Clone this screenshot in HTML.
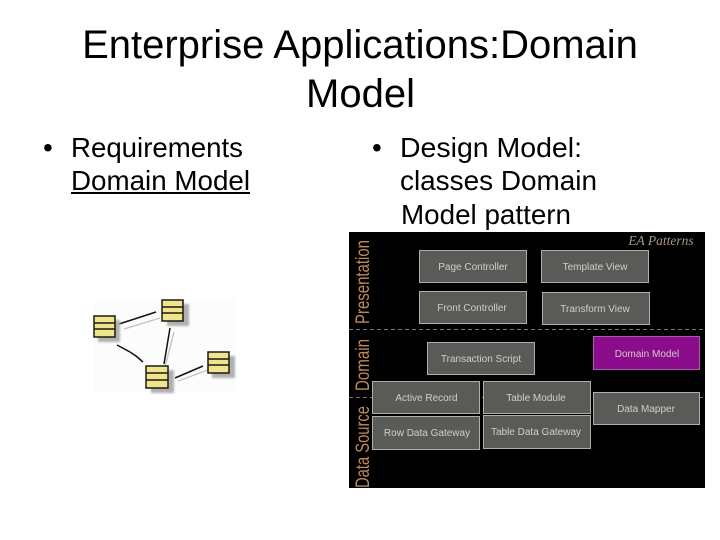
<!DOCTYPE html>
<html>
<head>
<meta charset="utf-8">
<style>
html,body{margin:0;padding:0;background:#fff}
body{width:720px;height:540px;position:relative;overflow:hidden}
svg{display:block}
</style>
</head>
<body>
<svg width="720" height="540" viewBox="0 0 720 540" xmlns="http://www.w3.org/2000/svg" font-family="'Liberation Sans',sans-serif">
<defs>
<filter id="b" x="-5%" y="-5%" width="110%" height="110%"><feGaussianBlur stdDeviation="0.3"/></filter>
<filter id="s" x="-20%" y="-20%" width="140%" height="140%"><feGaussianBlur stdDeviation="1"/></filter>
</defs>
<rect width="720" height="540" fill="#fff"/>
<g font-size="40" fill="#000" text-anchor="middle">
<text x="360" y="58">Enterprise Applications:Domain</text>
<text x="360.500" y="107">Model</text>
</g>
<g font-size="28" fill="#000">
<text x="43" y="157">•</text>
<text x="71" y="157" textLength="172" lengthAdjust="spacingAndGlyphs">Requirements</text>
<text x="71" y="190" textLength="179" lengthAdjust="spacingAndGlyphs">Domain Model</text>
<rect x="71" y="192" width="179" height="2"/>
<text x="372" y="157">•</text>
<text x="400" y="157" textLength="182" lengthAdjust="spacingAndGlyphs">Design Model:</text>
<text x="400" y="190" textLength="197" lengthAdjust="spacingAndGlyphs">classes Domain</text>
<text x="401" y="224" textLength="170" lengthAdjust="spacingAndGlyphs">Model pattern</text>
</g>

<!-- class diagram -->
<rect x="94" y="300" width="141" height="92" fill="#fcfcfc"/>
<g stroke="#c4c4c4" stroke-width="1.4" fill="none">
<path d="M124 329L160 318"/><path d="M174 332L165 367"/><path d="M178 381L208 370"/>
</g>
<g stroke="#111" stroke-width="1.5" fill="none">
<path d="M119 324L156 312"/><path d="M170 328L164 364"/><path d="M117 345L130 352L136 356L143 362"/><path d="M175 378L203 366"/>
</g>
<g fill="#b0b0b0" filter="url(#s)">
<rect x="98" y="320" width="22" height="22"/><rect x="167" y="304" width="22" height="22"/><rect x="151" y="370" width="23" height="23"/><rect x="212" y="356" width="23" height="22"/>
</g>
<g fill="#f0e48c" stroke="#1a1a10" stroke-width="1.5">
<rect x="94" y="316" width="21" height="21"/>
<path d="M94 323H115M94 329H115"/>
<rect x="162" y="300" width="21" height="21"/>
<path d="M162 307H183M162 313H183"/>
<rect x="146" y="366" width="22" height="22"/>
<path d="M146 373H168M146 380H168"/>
<rect x="208" y="352" width="21" height="21"/>
<path d="M208 359H229M208 365H229"/>
</g>

<!-- EA patterns panel -->
<rect x="349" y="232" width="356" height="256" fill="#000"/>
<g stroke="#77776f" stroke-width="1" stroke-dasharray="4 3">
<path d="M349 329.500H705M349 397.500H705"/>
</g>
<g filter="url(#b)">
<text x="661" y="245" font-family="'Liberation Serif',serif" font-style="italic" font-size="13.500" fill="#a89884" text-anchor="middle">EA Patterns</text>
<g font-size="19" fill="#c08a58">
<text transform="translate(369,324) rotate(-90)" textLength="84" lengthAdjust="spacingAndGlyphs">Presentation</text>
<text transform="translate(369,391) rotate(-90)" textLength="52" lengthAdjust="spacingAndGlyphs">Domain</text>
<text transform="translate(369,488) rotate(-90)" textLength="82" lengthAdjust="spacingAndGlyphs">Data Source</text>
</g>
<g fill="#5a5a58" stroke="#b0b0a6" stroke-width="1">
<rect x="419.500" y="250.500" width="107" height="32"/>
<rect x="541.500" y="250.500" width="107" height="32"/>
<rect x="419.500" y="291.500" width="107" height="32"/>
<rect x="542.500" y="292.500" width="107" height="32"/>
<rect x="427.500" y="342.500" width="107" height="32"/>
<rect x="593.500" y="336.500" width="106" height="33" fill="#8b0a8b" stroke="#a95ca9"/>
<rect x="372.500" y="381.500" width="107" height="32"/>
<rect x="483.500" y="381.500" width="107" height="32"/>
<rect x="593.500" y="392.500" width="106" height="32"/>
<rect x="372.500" y="416.500" width="107" height="33"/>
<rect x="483.500" y="415.500" width="107" height="33"/>
</g>
<g font-size="10" fill="#cfcfc8" text-anchor="middle">
<text x="473" y="270">Page Controller</text>
<text x="595" y="270">Template View</text>
<text x="472" y="311">Front Controller</text>
<text x="595" y="312">Transform View</text>
<text x="481" y="362">Transaction Script</text>
<text x="647" y="357">Domain Model</text>
<text x="426.500" y="401">Active Record</text>
<text x="536" y="401">Table Module</text>
<text x="646" y="412">Data Mapper</text>
<text x="427" y="436">Row Data Gateway</text>
<text x="536" y="435">Table Data Gateway</text>
</g>
</g>
</svg>
</body>
</html>
